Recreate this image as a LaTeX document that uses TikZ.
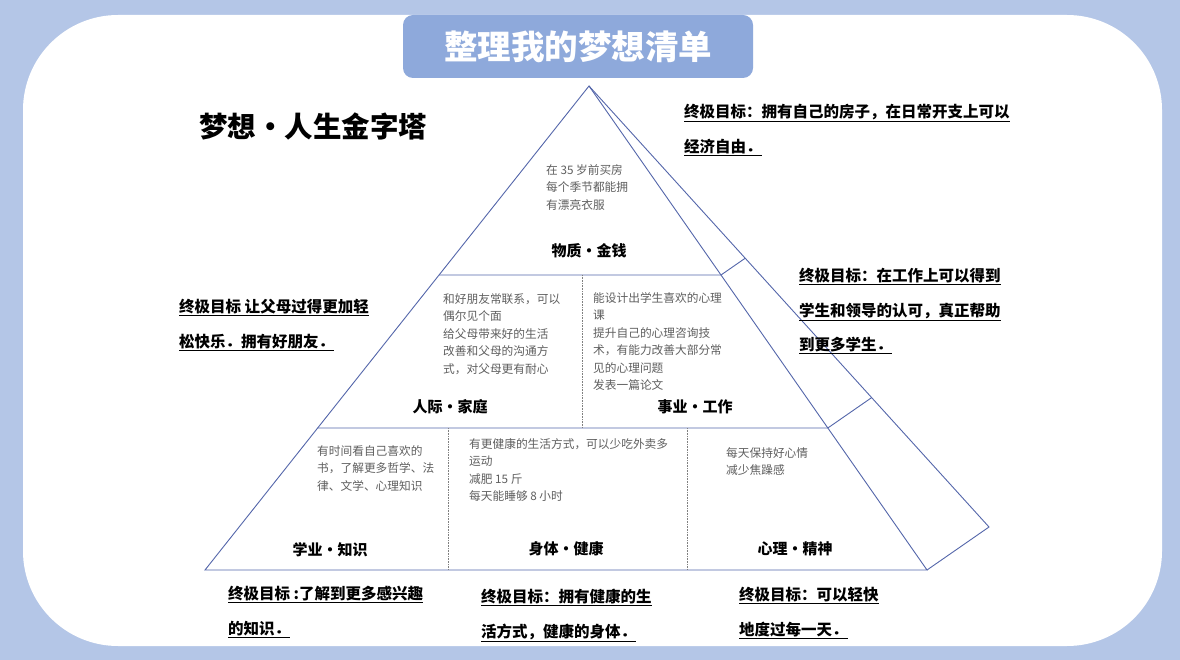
\documentclass[tikz,border=0pt]{standalone}
\usepackage{fontspec}
\setmainfont{Noto Sans CJK SC}
\usepackage{tikz}
\usetikzlibrary{positioning,calc}
\definecolor{bgblue}{RGB}{180,198,231}
\definecolor{titleblue}{RGB}{142,169,219}
\definecolor{lineblue}{RGB}{84,102,170}
\definecolor{notegray}{RGB}{95,95,95}

\begin{document}
\begin{tikzpicture}[x=1pt, y=-1pt,
  goal/.style={anchor=north west, inner sep=0pt, align=left, font=\bfseries\fontsize{15.5}{34.5}\selectfont},
  note/.style={anchor=north west, inner sep=0pt, align=left, text=notegray, font=\fontsize{11.7}{17.5}\selectfont},
  tag/.style={inner sep=0pt, font=\bfseries\fontsize{15}{18}\selectfont},
  tier/.style={draw=lineblue, line width=0.9pt},
  split/.style={draw=gray, densely dotted, line width=0.6pt}]
  \fill[bgblue] (0,0) rectangle (1180,660);
  \useasboundingbox (0,0) rectangle (1180,660);
  \fill[white, rounded corners=95pt] (23,15) rectangle (1162,646);
  \node[fill=titleblue, rounded corners=10pt, minimum width=350pt, minimum height=63pt, text=white, font=\bfseries\fontsize{33.5}{38}\selectfont] (title) at (578,46.5) {整理我的梦想清单};
  \node[anchor=west, inner sep=0pt, font=\bfseries\fontsize{28.5}{32}\selectfont] (head) at (199,126) {梦想・人生金字塔};

  % pyramid
  \coordinate (apex) at (589,86);
  \coordinate (bl) at (205,570);
  \coordinate (br) at (927,570);
  \coordinate (back) at (989,527);
  \coordinate (t1l) at ($(apex)!0.3905!(bl)$);
  \coordinate (t1r) at ($(apex)!0.3905!(br)$);
  \coordinate (t1b) at ($(apex)!0.3905!(back)$);
  \coordinate (t2l) at ($(apex)!0.7066!(bl)$);
  \coordinate (t2r) at ($(apex)!0.7066!(br)$);
  \coordinate (t2b) at ($(apex)!0.7066!(back)$);
  \draw[tier] (bl) -- (apex) -- (br) -- cycle;
  \draw[tier] (apex) -- (back) -- (br);
  \draw[tier] (t1l) -- (t1r) -- (t1b);
  \draw[tier] (t2l) -- (t2r) -- (t2b);
  \coordinate (s1a) at (582,275);
  \coordinate (s1b) at (582,428);
  \coordinate (s2a) at (448,428);
  \coordinate (s2b) at (448,570);
  \coordinate (s3a) at (687,428);
  \coordinate (s3b) at (687,570);
  \draw[split] (s1a) -- (s1b);
  \draw[split] (s2a) -- (s2b);
  \draw[split] (s3a) -- (s3b);

  \node[note] (money) at (546,164) {在 35 岁前买房\\每个季节都能拥\\有漂亮衣服};
  \node[note] (family) at (443,293) {和好朋友常联系，可以\\偶尔见个面\\给父母带来好的生活\\改善和父母的沟通方\\式，对父母更有耐心};
  \node[note] (work) at (593,292) {能设计出学生喜欢的心理\\课\\提升自己的心理咨询技\\术，有能力改善大部分常\\见的心理问题\\发表一篇论文};
  \node[note] (study) at (317,445) {有时间看自己喜欢的\\书，了解更多哲学、法\\律、文学、心理知识};
  \node[note] (body) at (469,438) {有更健康的生活方式，可以少吃外卖多\\运动\\减肥 15 斤\\每天能睡够 8 小时};
  \node[note] (mind) at (726,447) {每天保持好心情\\减少焦躁感};

  \node[tag] (moneytag) at (589,251) {物质・金钱};
  \node[tag] (familytag) at (450,407) {人际・家庭};
  \node[tag] (worktag) at (695,407) {事业・工作};
  \node[tag] (studytag) at (330,550) {学业・知识};
  \node[tag] (bodytag) at (566,549) {身体・健康};
  \node[tag] (mindtag) at (795,549) {心理・精神};

  \node[goal] (moneygoal) at (684,104) {\underline{终极目标：拥有自己的房子，在日常开支上可以}\\\underline{经济自由．}};
  \node[goal] (workgoal) at (799,268) {\underline{终极目标：在工作上可以得到}\\\underline{学生和领导的认可，真正帮助}\\\underline{到更多学生．}};
  \node[goal] (familygoal) at (179,299) {\underline{终极目标 让父母过得更加轻}\\\underline{松快乐．拥有好朋友．}};
  \node[goal] (studygoal) at (228,586) {\underline{终极目标 :了解到更多感兴趣}\\\underline{的知识．}};
  \node[goal] (bodygoal) at (481,589) {\underline{终极目标：拥有健康的生}\\\underline{活方式，健康的身体．}};
  \node[goal] (mindgoal) at (739,587) {\underline{终极目标：可以轻快}\\\underline{地度过每一天．}};
\end{tikzpicture}
\end{document}
